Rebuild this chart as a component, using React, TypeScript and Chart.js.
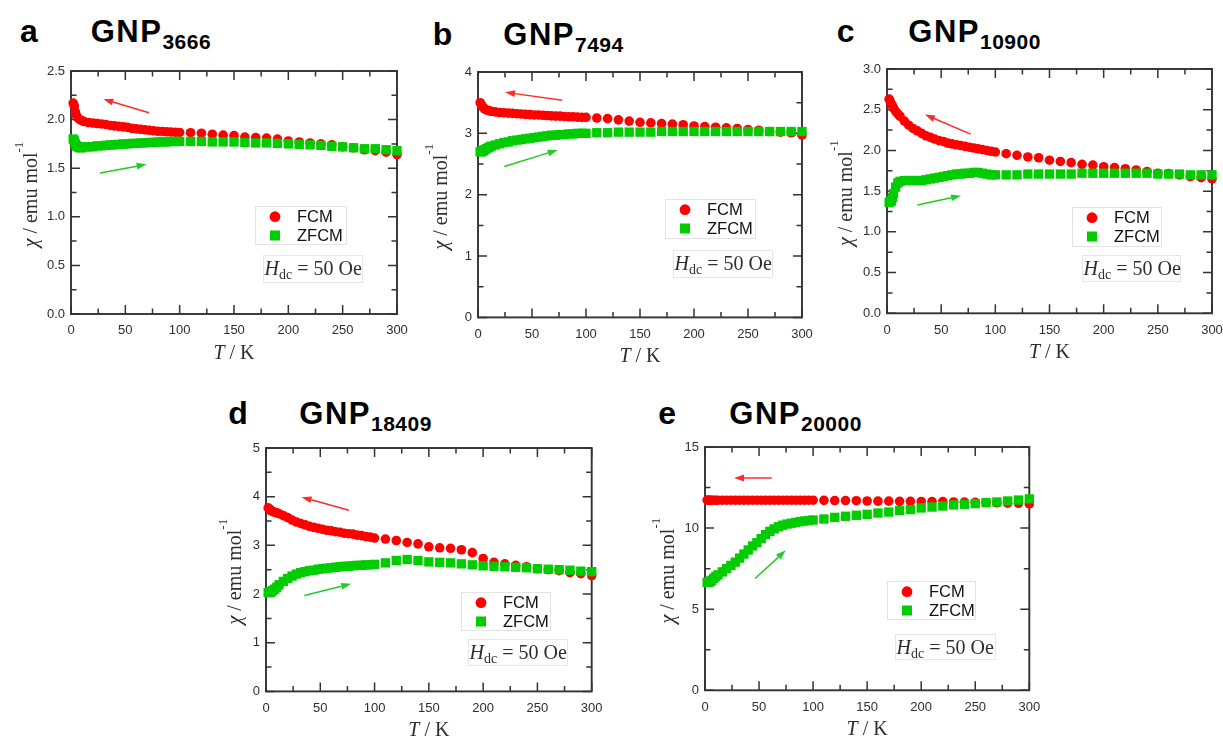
import { useEffect, useRef } from 'react';
import { Chart, registerables } from 'chart.js';

Chart.register(...registerables);

// Measurement temperatures (K), shared by every sample
const TEMPS = [
  2, 3, 4, 5, 6, 8, 10, 12, 16, 20, 24, 28, 32, 36, 40, 44, 48, 52, 56, 60,
  64, 68, 72, 76, 80, 84, 88, 92, 96, 100,
  110, 120, 130, 140, 150, 160, 170, 180, 190, 200,
  210, 220, 230, 240, 250, 260, 270, 280, 290, 300,
];

// χ (emu mol^-1), field-cooled and zero-field-cooled
const FCM_3666 = [
  2.17, 2.14, 2.08, 2.04, 2.02, 2.0, 1.99, 1.98, 1.97, 1.965, 1.96, 1.955, 1.95, 1.94, 1.935, 1.93, 1.925, 1.92, 1.91, 1.905,
  1.9, 1.895, 1.89, 1.885, 1.88, 1.878, 1.875, 1.872, 1.87, 1.868,
  1.865, 1.86, 1.85, 1.84, 1.835, 1.82, 1.815, 1.81, 1.8, 1.78,
  1.77, 1.76, 1.75, 1.74, 1.72, 1.71, 1.69, 1.68, 1.665, 1.64,
];
const ZFCM_3666 = [
  1.8, 1.78, 1.75, 1.73, 1.72, 1.71, 1.71, 1.72, 1.72, 1.72, 1.73, 1.73, 1.735, 1.74, 1.74, 1.745, 1.75, 1.75, 1.755, 1.755,
  1.76, 1.76, 1.765, 1.765, 1.77, 1.77, 1.77, 1.775, 1.775, 1.775,
  1.775, 1.775, 1.77, 1.77, 1.77, 1.765, 1.76, 1.76, 1.755, 1.75,
  1.745, 1.74, 1.735, 1.725, 1.72, 1.71, 1.7, 1.7, 1.69, 1.68,
];
const FCM_7494 = [
  3.5, 3.47, 3.44, 3.42, 3.4, 3.38, 3.37, 3.36, 3.35, 3.34, 3.335, 3.33, 3.325, 3.32, 3.315, 3.31, 3.305, 3.3, 3.3, 3.295,
  3.29, 3.285, 3.28, 3.28, 3.275, 3.27, 3.27, 3.265, 3.26, 3.26,
  3.25, 3.24, 3.22, 3.2, 3.18, 3.17, 3.16, 3.15, 3.14, 3.12,
  3.11, 3.1, 3.09, 3.08, 3.06, 3.05, 3.03, 3.02, 3.01, 2.97,
];
const ZFCM_7494 = [
  2.7, 2.7, 2.71, 2.72, 2.73, 2.75, 2.77, 2.79, 2.81, 2.83, 2.85, 2.86, 2.88, 2.89, 2.9, 2.91, 2.92, 2.93, 2.94, 2.95,
  2.96, 2.97, 2.97, 2.98, 2.98, 2.99, 2.99, 3.0, 3.0, 3.0,
  3.01, 3.01, 3.02, 3.02, 3.02, 3.02, 3.03, 3.03, 3.03, 3.03,
  3.03, 3.03, 3.03, 3.03, 3.03, 3.03, 3.03, 3.03, 3.03, 3.03,
];
const FCM_10900 = [
  2.63, 2.6, 2.57, 2.55, 2.52, 2.48, 2.45, 2.42, 2.36, 2.31, 2.27, 2.24, 2.21, 2.18, 2.16, 2.14, 2.12, 2.11, 2.09, 2.08,
  2.07, 2.06, 2.05, 2.04, 2.03, 2.02, 2.01, 2.0, 1.99, 1.98,
  1.96, 1.94, 1.92, 1.91, 1.88, 1.865, 1.85, 1.83, 1.82, 1.8,
  1.79, 1.775, 1.76, 1.74, 1.72, 1.715, 1.7, 1.68, 1.665, 1.65,
];
const ZFCM_10900 = [
  1.36, 1.37, 1.38, 1.42, 1.47, 1.55, 1.6, 1.62, 1.63, 1.63, 1.63, 1.63, 1.63, 1.64, 1.65, 1.66, 1.67, 1.68, 1.69, 1.7,
  1.71, 1.71, 1.72, 1.72, 1.73, 1.73, 1.72, 1.71, 1.7, 1.7,
  1.7, 1.7, 1.71, 1.71, 1.71, 1.71, 1.71, 1.72, 1.72, 1.72,
  1.72, 1.72, 1.72, 1.72, 1.71, 1.71, 1.71, 1.7, 1.7, 1.7,
];
const FCM_18409 = [
  3.77, 3.75, 3.73, 3.71, 3.7, 3.68, 3.67, 3.65, 3.61, 3.57, 3.52, 3.48, 3.45, 3.42, 3.39, 3.37, 3.35, 3.33, 3.31, 3.3,
  3.28, 3.27, 3.25, 3.24, 3.23, 3.21, 3.2, 3.18, 3.17, 3.15,
  3.13, 3.1, 3.06, 3.03, 2.97, 2.95, 2.94, 2.91, 2.85, 2.73,
  2.65, 2.62, 2.59, 2.56, 2.52, 2.5, 2.48, 2.44, 2.42, 2.38,
];
const ZFCM_18409 = [
  2.03, 2.03, 2.04, 2.05, 2.07, 2.1, 2.14, 2.19, 2.26, 2.32, 2.37, 2.41, 2.44, 2.46, 2.48, 2.49, 2.51, 2.52, 2.53, 2.54,
  2.55, 2.56, 2.57, 2.57, 2.58, 2.59, 2.59, 2.6, 2.6, 2.61,
  2.64, 2.69, 2.71, 2.69, 2.66, 2.65, 2.64, 2.62, 2.6, 2.58,
  2.57, 2.56, 2.55, 2.54, 2.52, 2.51, 2.5, 2.49, 2.47, 2.46,
];
const FCM_20000 = [
  11.73, 11.72, 11.72, 11.72, 11.72, 11.72, 11.72, 11.72, 11.72, 11.72, 11.72, 11.72, 11.72, 11.72, 11.72, 11.72, 11.72, 11.72, 11.72, 11.72,
  11.72, 11.72, 11.72, 11.72, 11.72, 11.72, 11.72, 11.72, 11.72, 11.72,
  11.71, 11.7, 11.7, 11.69, 11.67, 11.66, 11.66, 11.65, 11.65, 11.64,
  11.63, 11.63, 11.61, 11.6, 11.59, 11.58, 11.56, 11.54, 11.53, 11.49,
];
const ZFCM_20000 = [
  6.65, 6.65, 6.68, 6.72, 6.78, 6.9, 7.02, 7.12, 7.3, 7.5, 7.7, 7.9, 8.15, 8.4, 8.65, 8.9, 9.1, 9.35, 9.6, 9.8,
  9.95, 10.08, 10.18, 10.25, 10.3, 10.35, 10.4, 10.44, 10.47, 10.5,
  10.56, 10.66, 10.73, 10.79, 10.85, 10.93, 10.99, 11.08, 11.14, 11.24,
  11.3, 11.36, 11.43, 11.47, 11.51, 11.57, 11.61, 11.67, 11.73, 11.8,
];

const SANS = '"Liberation Sans", Arial, Helvetica, sans-serif';
const SERIF = '"Liberation Serif", "Times New Roman", Times, serif';
const INK = '#2e2e2e';
const AXIS = '#333333';
const RED = '#ff0000';
const GREEN = '#00cc00';
const ARROW_RED = '#ff2b2b';
const ARROW_GREEN = '#22cc22';

// space around each plot area inside its canvas
const MARGIN = { left: 75, top: 14, right: 22, bottom: 54 };

type Pt = [number, number];
type Box = [number, number, number, number];
type PanelCfg = {
  letter: string;
  sample: string;
  letterX: number;
  nameX: number;
  baseline: number;
  plot: { x: number; y: number; w: number; h: number };
  yMax: number;
  yStep: number;
  yDec: number;
  fcm: number[];
  zfcm: number[];
  redArrow: [Pt, Pt];
  greenArrow: [Pt, Pt];
  legend: Box;
  field: Box;
  yTitle: number;
};

const PANELS: PanelCfg[] = [
  {
    letter: 'a', sample: '3666', letterX: 20, nameX: 90.7, baseline: 41.7,
    plot: { x: 71, y: 71, w: 326, h: 243 },
    yMax: 2.5, yStep: 0.5, yDec: 1, fcm: FCM_3666, zfcm: ZFCM_3666,
    redArrow: [[71.8, 2.07], [29.7, 2.21]], greenArrow: [[26.7, 1.45], [69.6, 1.54]],
    legend: [184, 135, 91, 38], field: [192, 184, 99, 27], yTitle: 34.5,
  },
  {
    letter: 'b', sample: '7494', letterX: 432.7, nameX: 503.3, baseline: 45,
    plot: { x: 478, y: 72.3, w: 324, h: 245.4 },
    yMax: 4, yStep: 1, yDec: 0, fcm: FCM_7494, zfcm: ZFCM_7494,
    redArrow: [[78, 3.54], [25, 3.67]], greenArrow: [[24.4, 2.46], [73.8, 2.73]],
    legend: [187, 127, 90, 39], field: [195, 178, 99, 27], yTitle: 31.5,
  },
  {
    letter: 'c', sample: '10900', letterX: 836.7, nameX: 908.3, baseline: 41.7,
    plot: { x: 887, y: 69, w: 325, h: 244.3 },
    yMax: 3, yStep: 0.5, yDec: 1, fcm: FCM_10900, zfcm: ZFCM_10900,
    redArrow: [[77.2, 2.2], [35, 2.44]], greenArrow: [[28, 1.33], [68.3, 1.445]],
    legend: [185, 138, 89, 39], field: [195, 186, 98, 26], yTitle: 35.5,
  },
  {
    letter: 'd', sample: '18409', letterX: 228.3, nameX: 299.3, baseline: 424,
    plot: { x: 266, y: 448.3, w: 325.7, h: 243.4 },
    yMax: 5, yStep: 1, yDec: 0, fcm: FCM_18409, zfcm: ZFCM_18409,
    redArrow: [[76.4, 3.72], [32.8, 3.99]], greenArrow: [[35.3, 1.97], [78.5, 2.21]],
    legend: [195, 144, 89, 38], field: [202, 191, 99, 26], yTitle: 25,
  },
  {
    letter: 'e', sample: '20000', letterX: 658.3, nameX: 729.3, baseline: 424,
    plot: { x: 705, y: 446.7, w: 324.3, h: 243.3 },
    yMax: 15, yStep: 5, yDec: 0, fcm: FCM_20000, zfcm: ZFCM_20000,
    redArrow: [[61.7, 13.09], [26.9, 13.09]], greenArrow: [[46.3, 6.89], [74.7, 8.63]],
    legend: [182, 134, 88, 38], field: [190, 187, 100, 25], yTitle: 31.5,
  },
];

type Run = { text: string; font: string; dy?: number };

function runsWidth(ctx: CanvasRenderingContext2D, runs: Run[]) {
  let w = 0;
  for (const r of runs) {
    ctx.font = r.font;
    w += ctx.measureText(r.text).width;
  }
  return w;
}

function drawRuns(ctx: CanvasRenderingContext2D, runs: Run[], x: number, y: number) {
  let cx = x;
  for (const r of runs) {
    ctx.font = r.font;
    ctx.fillText(r.text, cx, y + (r.dy || 0));
    cx += ctx.measureText(r.text).width;
  }
}

function drawArrow(ctx: CanvasRenderingContext2D, x1: number, y1: number, x2: number, y2: number, color: string) {
  const ang = Math.atan2(y2 - y1, x2 - x1);
  const len = 10;
  const half = 3.4;
  const bx = x2 - len * Math.cos(ang);
  const by = y2 - len * Math.sin(ang);
  ctx.strokeStyle = color;
  ctx.fillStyle = color;
  ctx.lineWidth = 1.5;
  ctx.beginPath();
  ctx.moveTo(x1, y1);
  ctx.lineTo(bx, by);
  ctx.stroke();
  ctx.beginPath();
  ctx.moveTo(x2, y2);
  ctx.lineTo(bx + half * Math.sin(ang), by - half * Math.cos(ang));
  ctx.lineTo(bx - half * Math.sin(ang), by + half * Math.cos(ang));
  ctx.closePath();
  ctx.fill();
}

function midpoints(vals: number[]) {
  const out: number[] = [];
  for (let i = 0; i < vals.length - 1; i++) out.push((vals[i] + vals[i + 1]) / 2);
  return out;
}

function decorPlugin(cfg: PanelCfg) {
  return {
    id: 'panelDecor',
    beforeDatasetsDraw(chart: any) {
      const { ctx, chartArea: a } = chart;
      const xs = chart.scales.x;
      const ys = chart.scales.y;
      const xv: number[] = xs.ticks.map((t: any) => t.value);
      const yv: number[] = ys.ticks.map((t: any) => t.value);
      ctx.save();
      ctx.strokeStyle = AXIS;
      ctx.beginPath();
      const tickX = (v: number, len: number) => {
        const p = xs.getPixelForValue(v);
        ctx.moveTo(p, a.bottom);
        ctx.lineTo(p, a.bottom - len);
        ctx.moveTo(p, a.top);
        ctx.lineTo(p, a.top + len);
      };
      const tickY = (v: number, len: number) => {
        const p = ys.getPixelForValue(v);
        ctx.moveTo(a.left, p);
        ctx.lineTo(a.left + len, p);
        ctx.moveTo(a.right, p);
        ctx.lineTo(a.right - len, p);
      };
      xv.forEach((v) => tickX(v, 9));
      midpoints(xv).forEach((v) => tickX(v, 5.5));
      yv.forEach((v) => tickY(v, 9));
      midpoints(yv).forEach((v) => tickY(v, 5.5));
      ctx.lineWidth = 1.5;
      ctx.stroke();
      ctx.lineWidth = 1.9;
      ctx.strokeRect(a.left, a.top, a.right - a.left, a.bottom - a.top);
      ctx.restore();
    },
    afterDatasetsDraw(chart: any) {
      const { ctx, chartArea: a } = chart;
      const xs = chart.scales.x;
      const ys = chart.scales.y;
      ctx.save();

      // cooling / warming direction arrows
      const arrows: [[Pt, Pt], string][] = [
        [cfg.redArrow, ARROW_RED],
        [cfg.greenArrow, ARROW_GREEN],
      ];
      for (const [[from, to], color] of arrows) {
        drawArrow(
          ctx,
          xs.getPixelForValue(from[0]), ys.getPixelForValue(from[1]),
          xs.getPixelForValue(to[0]), ys.getPixelForValue(to[1]),
          color,
        );
      }

      // legend
      const [lx, ly, lw, lh] = cfg.legend;
      const bx = a.left + lx;
      const by = a.top + ly;
      ctx.fillStyle = '#ffffff';
      ctx.fillRect(bx, by, lw, lh);
      ctx.strokeStyle = '#e3e3e3';
      ctx.lineWidth = 1;
      ctx.strokeRect(bx + 0.5, by + 0.5, lw, lh);
      ctx.fillStyle = RED;
      ctx.beginPath();
      ctx.arc(bx + 20, by + 10.7, 5.4, 0, Math.PI * 2);
      ctx.fill();
      ctx.fillStyle = GREEN;
      ctx.fillRect(bx + 15, by + 24.5, 10, 10);
      ctx.fillStyle = '#111111';
      ctx.font = `16.5px ${SANS}`;
      ctx.textBaseline = 'middle';
      ctx.textAlign = 'left';
      ctx.fillText('FCM', bx + 42, by + 11);
      ctx.fillText('ZFCM', bx + 42, by + 30);

      // field annotation
      const [fx, fy, fw, fh] = cfg.field;
      const hx = a.left + fx;
      const hy = a.top + fy;
      ctx.fillStyle = '#ffffff';
      ctx.fillRect(hx, hy, fw, fh);
      ctx.strokeStyle = '#e6e6e6';
      ctx.strokeRect(hx + 0.5, hy + 0.5, fw, fh);
      ctx.fillStyle = INK;
      ctx.textBaseline = 'alphabetic';
      drawRuns(ctx, [
        { text: 'H', font: `italic 20px ${SERIF}` },
        { text: 'dc', font: `14px ${SERIF}`, dy: 4 },
        { text: ' = 50 Oe', font: `20px ${SERIF}` },
      ], hx + 1.5, hy + 20);

      // axis titles
      const xRuns: Run[] = [
        { text: 'T', font: `italic 20px ${SERIF}` },
        { text: ' / K', font: `20px ${SERIF}` },
      ];
      const xw = runsWidth(ctx, xRuns);
      drawRuns(ctx, xRuns, (a.left + a.right) / 2 - xw / 2, a.bottom + 45);

      const yRuns: Run[] = [
        { text: 'χ', font: `italic 20px ${SERIF}` },
        { text: ' / emu mol', font: `20px ${SERIF}` },
        { text: '-1', font: `13px ${SERIF}`, dy: -14 },
      ];
      const yw = runsWidth(ctx, yRuns);
      ctx.translate(a.left - cfg.yTitle, (a.top + a.bottom) / 2 + 2);
      ctx.rotate(-Math.PI / 2);
      drawRuns(ctx, yRuns, -yw / 2, 0);
      ctx.restore();
    },
  };
}

function Panel({ cfg }: { cfg: PanelCfg }) {
  const ref = useRef<HTMLCanvasElement>(null);
  const { plot } = cfg;
  const W = Math.round(plot.w + MARGIN.left + MARGIN.right);
  const H = Math.round(plot.h + MARGIN.top + MARGIN.bottom);
  const padRight = W - MARGIN.left - plot.w;
  const xAxisH = H - MARGIN.top - plot.h;

  useEffect(() => {
    const canvas = ref.current;
    if (!canvas) return;
    const tickFont = { family: SANS, size: 13 };
    const chart = new Chart(canvas, {
      type: 'scatter',
      data: {
        datasets: [
          {
            label: 'FCM',
            data: TEMPS.map((t, i) => ({ x: t, y: cfg.fcm[i] })),
            pointStyle: 'circle',
            pointRadius: 4.8,
            backgroundColor: RED,
            borderColor: RED,
            borderWidth: 0,
            clip: false,
            order: 2,
          },
          {
            label: 'ZFCM',
            data: TEMPS.map((t, i) => ({ x: t, y: cfg.zfcm[i] })),
            pointStyle: 'rect',
            pointRadius: 6.6,
            backgroundColor: GREEN,
            borderColor: GREEN,
            borderWidth: 0,
            clip: false,
            order: 1,
          },
        ],
      },
      options: {
        responsive: false,
        animation: false,
        devicePixelRatio: 1,
        events: [],
        layout: { padding: { left: 0, top: MARGIN.top, right: padRight, bottom: 0 } },
        plugins: { legend: { display: false }, tooltip: { enabled: false } },
        scales: {
          x: {
            type: 'linear',
            min: 0,
            max: 300,
            grid: { display: false, drawTicks: false },
            border: { display: false },
            ticks: { stepSize: 50, padding: 9, color: INK, font: tickFont, maxRotation: 0, autoSkip: false },
            afterFit: (s: any) => { s.height = xAxisH; },
          },
          y: {
            type: 'linear',
            min: 0,
            max: cfg.yMax,
            grid: { display: false, drawTicks: false },
            border: { display: false },
            ticks: {
              stepSize: cfg.yStep,
              padding: 6,
              color: INK,
              font: tickFont,
              callback: (v: any) => Number(v).toFixed(cfg.yDec),
            },
            afterFit: (s: any) => { s.width = MARGIN.left; },
          },
        },
      } as any,
      plugins: [decorPlugin(cfg)],
    });
    return () => chart.destroy();
  }, [cfg]);

  return (
    <>
      <div
        style={{
          position: 'absolute', left: cfg.letterX, top: cfg.baseline - 27.1,
          font: `bold 32px ${SANS}`, lineHeight: 1, color: '#000', whiteSpace: 'nowrap',
        }}
      >
        {cfg.letter}
      </div>
      <div
        style={{
          position: 'absolute', left: cfg.nameX, top: cfg.baseline - 26.2,
          font: `bold 31px ${SANS}`, lineHeight: 1, color: '#000', whiteSpace: 'nowrap', letterSpacing: 1.5,
        }}
      >
        GNP
        <span style={{ fontSize: 21, position: 'relative', top: 7.7, letterSpacing: 0.5 }}>{cfg.sample}</span>
      </div>
      <canvas
        ref={ref}
        width={W}
        height={H}
        style={{
          position: 'absolute', left: plot.x - MARGIN.left, top: plot.y - MARGIN.top,
          width: W, height: H, display: 'block',
        }}
      />
    </>
  );
}

export default function App() {
  return (
    <div
      style={{
        position: 'fixed', left: 0, top: 0, width: 1223, height: 741,
        background: '#ffffff', overflow: 'hidden',
      }}
    >
      {PANELS.map((p) => (
        <Panel key={p.letter} cfg={p} />
      ))}
    </div>
  );
}
